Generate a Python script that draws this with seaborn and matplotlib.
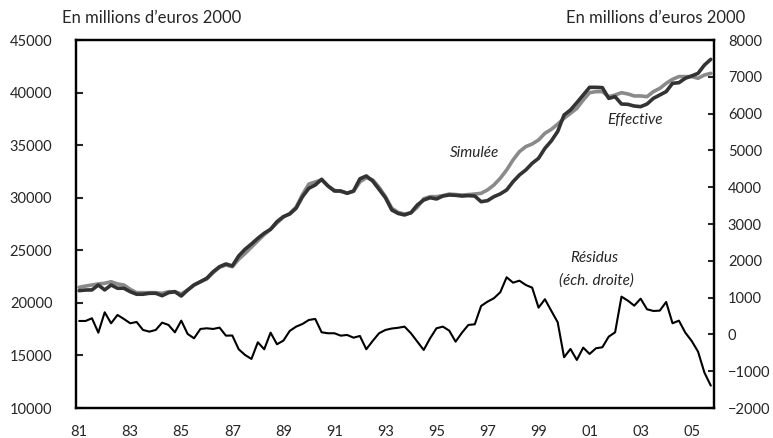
import numpy as np
import pandas as pd
import seaborn as sns
from matplotlib import pyplot as plt

# quarterly data, 1981Q1 .. 2005Q4 (in millions of euros 2000)
years = [str(y % 100).zfill(2) for y in range(1981, 2006, 2)]

effective = [21160, 21220, 21230, 21700, 21230, 21700, 21390, 21390, 21060, 20820,
             20820, 20910, 20910, 20680, 20970, 21060, 20650, 21220, 21700, 22010,
             22340, 22960, 23440, 23700, 23510, 24460, 25100, 25600, 26140, 26620,
             27000, 27720, 28200, 28450, 29000, 30100, 30900, 31210, 31750, 31120,
             30640, 30640, 30420, 30640, 31800, 32070, 31590, 30800, 30000, 28830,
             28500, 28360, 28580, 29310, 29780, 30000, 29880, 30160, 30260, 30230,
             30160, 30200, 30160, 29620, 29720, 30100, 30360, 30740, 31520, 32160,
             32640, 33270, 33750, 34700, 35400, 36300, 37870, 38340, 39040, 39770,
             40500, 40500, 40470, 39450, 39610, 38910, 38880, 38720, 38660, 38910,
             39450, 39770, 40090, 40880, 40940, 41360, 41580, 41830, 42620, 43160]

simulee = [21480, 21600, 21700, 21800, 21860, 22010, 21800, 21700, 21290, 20970,
           20970, 20970, 20970, 20910, 21060, 21060, 20850, 21220, 21700, 22010,
           22270, 22870, 23380, 23600, 23440, 24150, 24700, 25300, 25900, 26500,
           27000, 27600, 28150, 28500, 29100, 30300, 31300, 31500, 31700, 31100,
           30700, 30600, 30450, 30600, 31500, 31900, 31700, 31000, 30100, 29000,
           28600, 28450, 28550, 29100, 29900, 30100, 30100, 30200, 30350, 30300,
           30260, 30300, 30350, 30420, 30740, 31210, 31850, 32640, 33590, 34380,
           34860, 35110, 35490, 36130, 36500, 37000, 37550, 38030, 38500, 39290,
           39990, 40090, 40090, 39610, 39770, 39990, 39870, 39680, 39680, 39610,
           40090, 40400, 40880, 41260, 41520, 41520, 41520, 41360, 41670, 41830]

residus = [365, 365, 438, 48, 601, 302, 528, 420, 302, 338,
           121, 75, 121, 320, 257, 57, 374, 12, -106, 148,
           166, 148, 184, -34, -30, -404, -559, -667, -214, -404,
           48, -268, -170, 94, 211, 284, 392, 420, 57, 31,
           31, -34, -15, -89, -43, -404, -178, 31, 121, 160,
           180, 211, 31, -197, -423, -106, 166, 211, 102, -197,
           48, 257, 275, 773, 890, 982, 1145, 1553, 1406, 1460,
           1343, 1270, 727, 955, 640, 330, -621, -396, -694, -360,
           -531, -377, -350, -61, 57, 1026, 917, 781, 971, 683,
           637, 646, 881, 302, 374, 48, -178, -469, -1039, -1393]

df = pd.DataFrame({"t": np.arange(len(effective)), "Effective": effective,
                   "Simulée": simulee, "Résidus": residus})

sns.set_style("white")
plt.rcParams["font.family"] = ["Lato", "DejaVu Sans"]
plt.rcParams["font.size"] = 10.5

fig = plt.figure(figsize=(7.73, 4.38), dpi=100)
ax = fig.add_axes([76 / 773, 30 / 438, 638 / 773, 368 / 438])
ax2 = ax.twinx()

sns.lineplot(data=df, x="t", y="Simulée", ax=ax, color="#8a8a8a", lw=2.6)
sns.lineplot(data=df, x="t", y="Effective", ax=ax, color="#333333", lw=2.6)
sns.lineplot(data=df, x="t", y="Résidus", ax=ax2, color="black", lw=1.5)

ax.set_xlim(-0.5, len(effective) - 0.5)
ax.set_ylim(10000, 45000)
ax.set_yticks(range(10000, 45001, 5000))
ax2.set_ylim(-2000, 8000)
ax2.set_yticks(range(-2000, 8001, 1000))

ax.set_xticks(np.arange(0, len(effective), 8))
ax.set_xticklabels(years)
ax.set_xticks(np.arange(-0.5, len(effective), 4), minor=True)
ax.tick_params(axis="x", which="major", length=0, pad=12, labelsize=10.5)
ax.tick_params(axis="x", which="minor", direction="in", length=4, width=1.5)
ax.tick_params(axis="y", direction="in", length=5, width=1.5, pad=17, labelsize=10.5)
ax2.tick_params(axis="y", direction="in", length=4, width=1.5, pad=10, labelsize=10.5)

for a in (ax, ax2):
    a.set_xlabel("")
    a.set_ylabel("")
    for sp in a.spines.values():
        sp.set_linewidth(1.6)
        sp.set_color("black")

ax.text(0.624, 0.693, "Simulée", transform=ax.transAxes, style="italic",
        ha="center", va="center", fontsize=11)
ax.text(0.876, 0.783, "Effective", transform=ax.transAxes, style="italic",
        ha="center", va="center", fontsize=11)
ax.text(0.813, 0.408, "Résidus", transform=ax.transAxes, style="italic",
        ha="center", va="center", fontsize=11)
ax.text(0.815, 0.345, "(éch. droite)", transform=ax.transAxes, style="italic",
        ha="center", va="center", fontsize=11)

fig.text(62 / 773, 1 - 18 / 438, "En millions d’euros 2000", ha="left", va="center", fontsize=12)
fig.text(745 / 773, 1 - 18 / 438, "En millions d’euros 2000", ha="right", va="center", fontsize=12)

fig.savefig("out.png", dpi=100)
